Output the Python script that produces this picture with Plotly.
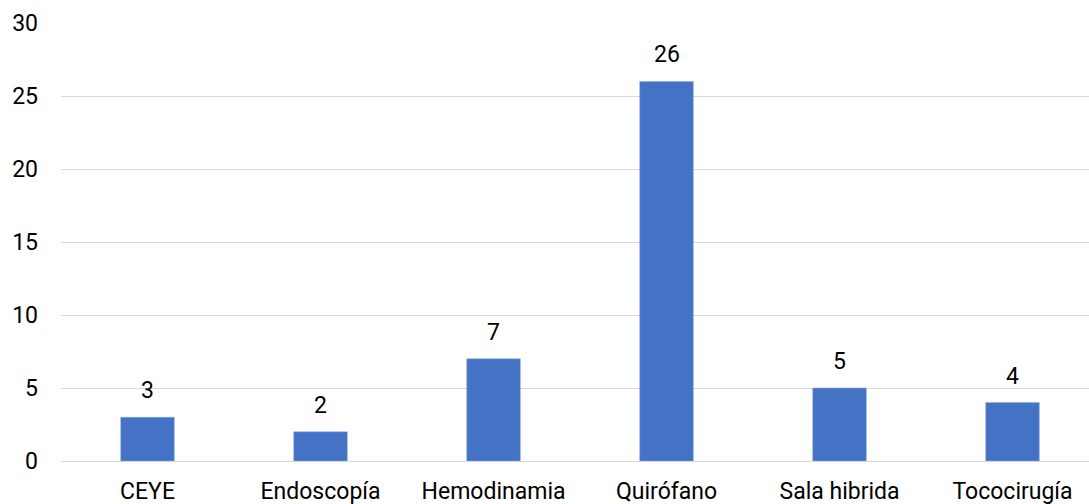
import plotly.graph_objects as go

categories = ["CEYE", "Endoscopía", "Hemodinamia", "Quirófano", "Sala hibrida", "Tococirugía"]
values = [3, 2, 7, 26, 5, 4]
y_ticks = [0, 5, 10, 15, 20, 25, 30]

fig = go.Figure()
fig.add_trace(go.Bar(
    x=categories, y=values, width=0.31,
    marker=dict(color="#4472C4", line=dict(color="#8FAADC", width=0.5)),
    hoverinfo="x+y",
))
for c, v in zip(categories, values):
    fig.add_annotation(x=c, y=v, text=str(v), showarrow=False, yanchor="bottom",
                       yshift=11, font=dict(size=23, color="#000000"))

fig.update_layout(
    width=1089, height=504,
    margin=dict(l=61, r=0, t=23, b=43),
    paper_bgcolor="white", plot_bgcolor="white",
    font=dict(family="Roboto", size=23, color="#000000"),
    showlegend=False,
    xaxis=dict(range=[-0.5, 5.442], showgrid=False, showline=False, zeroline=False,
               automargin=False, ticks="", ticklabelstandoff=14, tickfont=dict(size=23)),
    yaxis=dict(range=[0, 30], tickvals=y_ticks, showgrid=True, gridcolor="#D9D9D9",
               gridwidth=1.3, zeroline=True, zerolinecolor="#D9D9D9", zerolinewidth=1.3,
               automargin=False, showline=False, ticks="", ticklabelstandoff=22,
               tickfont=dict(size=23)),
)
fig.write_html("out.html", config={"displayModeBar": False},
               post_script="document.body.style.margin='0';document.body.style.overflow='hidden';")
